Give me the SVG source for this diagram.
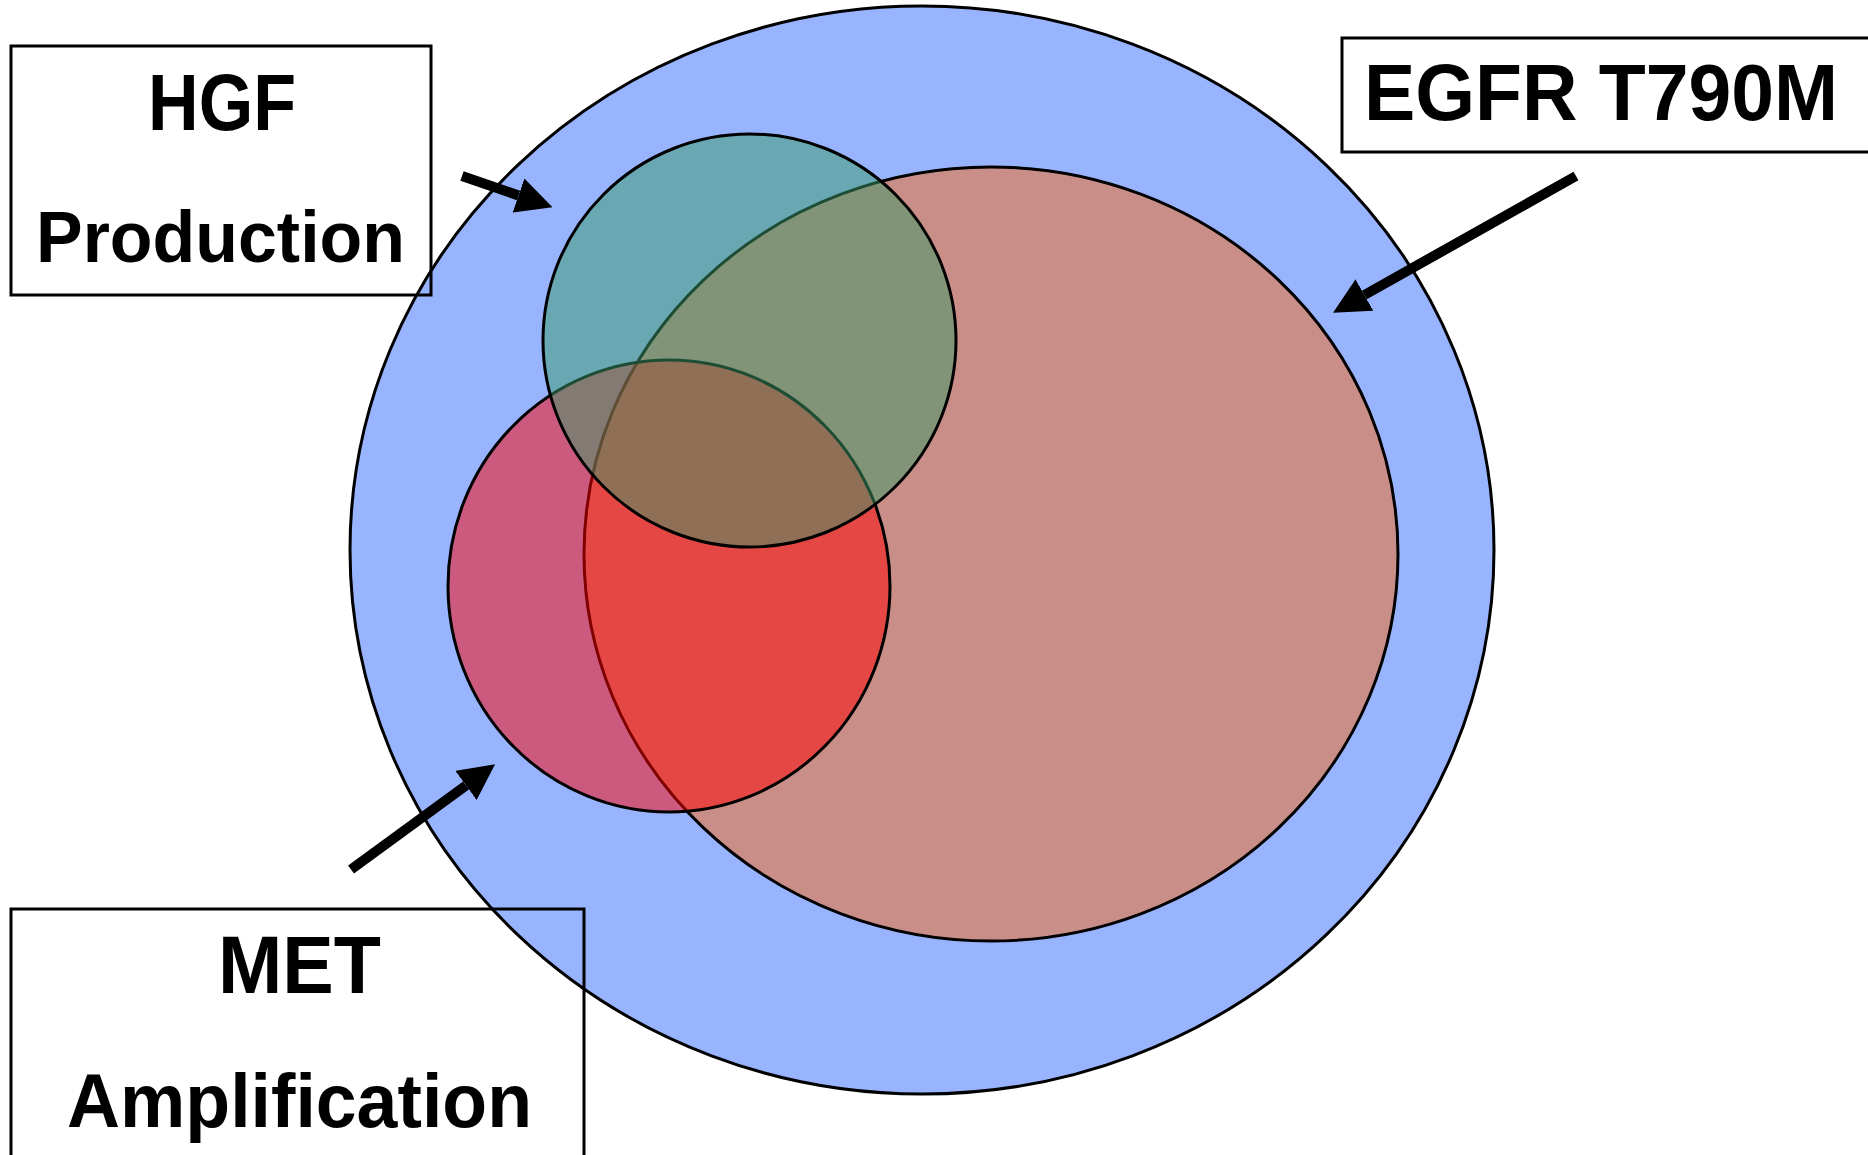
<svg xmlns="http://www.w3.org/2000/svg" width="1868" height="1155" viewBox="0 0 1868 1155">
  <style>
    .shape { stroke: #000; stroke-width: 3; }
    .box { fill: none; stroke: #000; stroke-width: 3; }
    .lbl { font-family: "Liberation Sans", "DejaVu Sans", sans-serif; font-weight: bold; fill: #000; }
    .arrow { stroke: #000; stroke-width: 10; fill: none; stroke-linecap: butt; marker-end: url(#ah); }
  </style>
  <defs>
    <marker id="ah" markerUnits="userSpaceOnUse" markerWidth="36" markerHeight="36" viewBox="0 0 36 36" refX="0" refY="18" orient="auto">
      <path d="M0,0 L36,18 L0,36 z" fill="#000"/>
    </marker>
  </defs>
  <rect width="1868" height="1155" fill="#fff"/>

  <g id="all-resistance">
    <ellipse class="shape" cx="922" cy="550" rx="572" ry="544" fill="#99b4ff"/>
  </g>
  <g id="egfr-t790m-set">
    <ellipse class="shape" cx="991" cy="554" rx="407" ry="387" fill="#c98e88"/>
  </g>
  <g id="met-set">
    <ellipse class="shape" cx="669" cy="586" rx="221" ry="226" fill="#ff0000" fill-opacity="0.5"/>
  </g>
  <g id="hgf-set">
    <circle class="shape" cx="749.5" cy="340.5" r="206.5" fill="#399a67" fill-opacity="0.5"/>
  </g>

  <g id="hgf-label">
    <rect class="box" x="11" y="46" width="420" height="249"/>
    <text class="lbl" x="148" y="130" font-size="80" textLength="148" lengthAdjust="spacingAndGlyphs">HGF</text>
    <text class="lbl" x="36" y="262" font-size="72" textLength="369" lengthAdjust="spacingAndGlyphs">Production</text>
  </g>
  <g id="egfr-label">
    <rect class="box" x="1342" y="38" width="560" height="114"/>
    <text class="lbl" x="1364" y="120" font-size="80" textLength="474" lengthAdjust="spacingAndGlyphs">EGFR T790M</text>
  </g>
  <g id="met-label">
    <rect class="box" x="11" y="909" width="573" height="260"/>
    <text class="lbl" x="218" y="993" font-size="82" textLength="163" lengthAdjust="spacingAndGlyphs">MET</text>
    <text class="lbl" x="67" y="1127" font-size="76" textLength="465" lengthAdjust="spacingAndGlyphs">Amplification</text>
  </g>

  <g id="connectors">
    <path class="arrow" d="M462,176 L518.5,195.5"/>
    <path class="arrow" d="M1576,176 L1364.4,295"/>
    <path class="arrow" d="M351,869.5 L466,785.5"/>
  </g>
</svg>
